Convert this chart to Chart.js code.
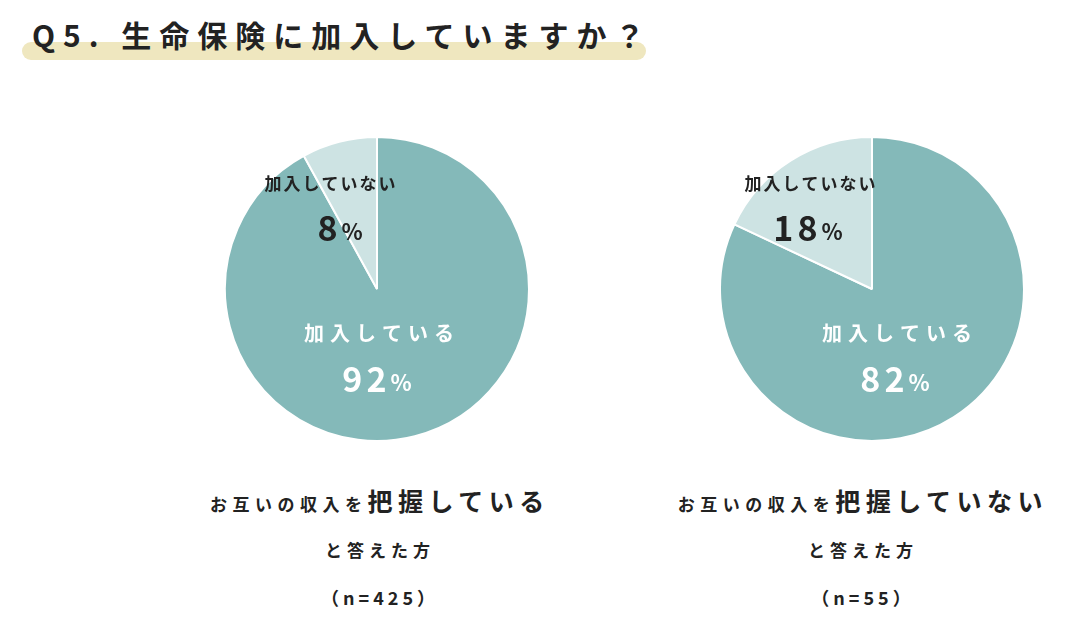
<!DOCTYPE html>
<html><head><meta charset="utf-8">
<script src="https://cdn.jsdelivr.net/npm/chart.js@4/dist/chart.umd.min.js"></script>
<style>
body{margin:0;width:1084px;height:644px;background:#fff;position:relative;font-family:"Noto Sans CJK JP",sans-serif;color:#222;overflow:hidden}
#hl{position:absolute;left:22px;top:42px;width:624px;height:18px;background:#efe7bf;border-radius:9px}
#title{position:absolute;left:32px;top:12px;font-size:30px;font-weight:700;letter-spacing:8px;white-space:nowrap}
.pie{position:absolute;width:306px;height:306px;top:136px}
.cap{position:absolute;width:480px;text-align:center;font-weight:700;white-space:nowrap}
</style></head><body>
<div id="hl"></div>
<div id="title">Q5. 生命保険に加入していますか？</div>
<div class="pie" style="left:224px"><canvas id="c1"></canvas></div>
<div class="pie" style="left:719px"><canvas id="c2"></canvas></div>
<div class="cap" style="left:140px;top:482px;font-size:17px;letter-spacing:5.5px">お互いの収入を<span style="font-size:25px">把握している</span></div>
<div class="cap" style="left:140px;top:537px;font-size:17px;letter-spacing:5px">と答えた方</div>
<div class="cap" style="left:140px;top:584px;font-size:18px;letter-spacing:4px">（n=425）</div>
<div class="cap" style="left:623px;top:482px;font-size:17px;letter-spacing:5.5px">お互いの収入を<span style="font-size:25px">把握していない</span></div>
<div class="cap" style="left:623px;top:537px;font-size:17px;letter-spacing:5px">と答えた方</div>
<div class="cap" style="left:623px;top:584px;font-size:18px;letter-spacing:4px">（n=55）</div>
<script>
const categories=["加入している","加入していない"];
const groupA=[92,8];
const groupB=[82,18];
const colors=["#84b9b9","#cde3e3"];
function labels(offs){return{id:"lbl",afterDraw(ch){const c=ch.ctx,a=ch.getDatasetMeta(0).data[0];const x=a.x,y=a.y;const v=ch.data.datasets[0].data;
c.save();c.textAlign="center";c.textBaseline="middle";
const draw=(t,p,px,py,col,fs,ps)=>{c.fillStyle=col;c.letterSpacing="4px";c.font="700 "+fs+"px 'Noto Sans CJK JP'";const w1=c.measureText(String(p)).width;c.font="700 "+ps+"px 'Noto Sans CJK JP'";const w2=c.measureText("%").width;
c.letterSpacing="6px";c.font="700 20px 'Noto Sans CJK JP'";if(t)c.fillText(t,x+px+3,y+py);
c.letterSpacing="4px";const sx=x+px-(w1+w2)/2;c.textAlign="left";c.font="700 "+fs+"px 'Noto Sans CJK JP'";c.fillText(String(p),sx,y+py+46);c.font="700 "+ps+"px 'Noto Sans CJK JP'";c.fillText("%",sx+w1,y+py+50);c.textAlign="center";};
draw(categories[0],v[0],offs[0],44,"#fff",34,22);
c.letterSpacing="2px";c.font="700 17px 'Noto Sans CJK JP'";
c.fillStyle="#222";c.fillText(categories[1],x+offs[1]+1,y-105);
draw("",v[1],offs[2],-107,"#222",34,22);
c.restore();}}}
function mk(id,d,offs){new Chart(document.getElementById(id),{type:"pie",data:{labels:categories,datasets:[{data:d,backgroundColor:colors,borderColor:"#fff",borderWidth:2}]},
options:{responsive:true,maintainAspectRatio:false,animation:false,plugins:{legend:{display:false},tooltip:{enabled:false}}},plugins:[labels(offs)]});}
mk("c1",groupA,[2,-47,-35]);
mk("c2",groupB,[25,-62,-62]);
</script></body></html>
